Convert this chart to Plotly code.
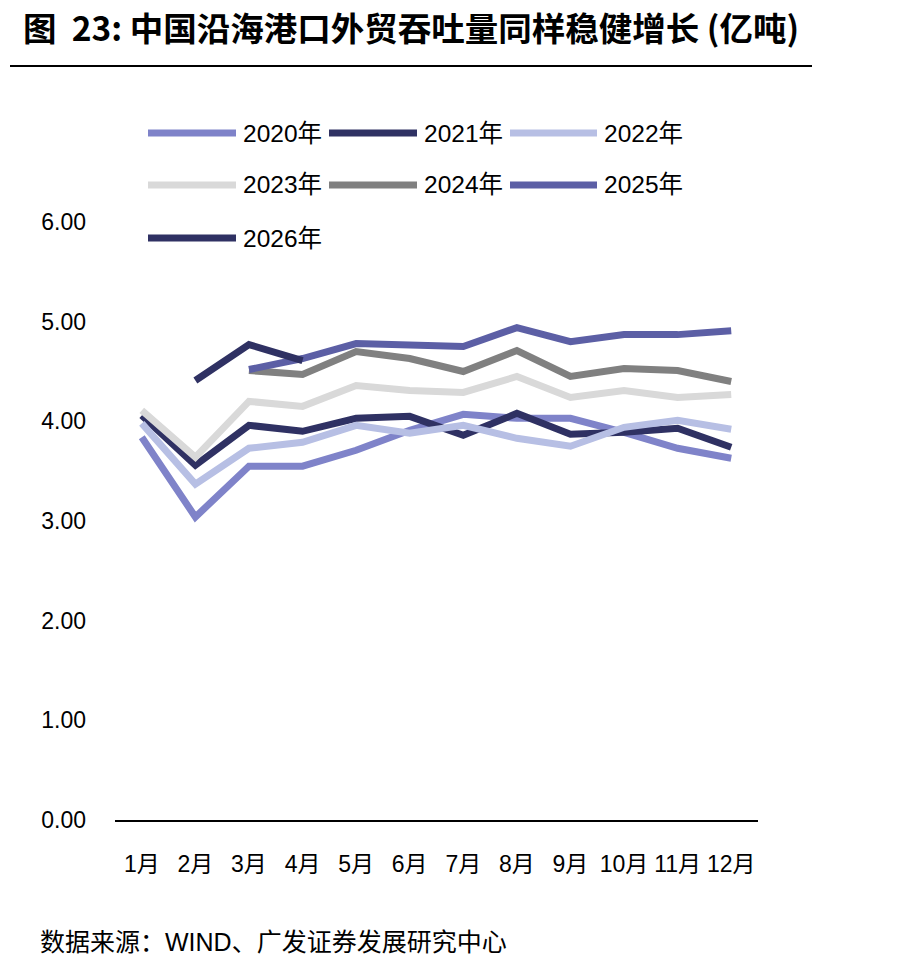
import plotly.graph_objects as go

months = ["1月", "2月", "3月", "4月", "5月", "6月", "7月", "8月", "9月", "10月", "11月", "12月"]
series_names = ["2020年", "2021年", "2022年", "2023年", "2024年", "2025年", "2026年"]
y2020 = [3.84, 3.04, 3.55, 3.55, 3.71, 3.91, 4.07, 4.03, 4.03, 3.89, 3.73, 3.63]
y2021 = [4.06, 3.56, 3.96, 3.90, 4.03, 4.05, 3.86, 4.08, 3.87, 3.89, 3.93, 3.74]
y2022 = [3.98, 3.37, 3.73, 3.79, 3.96, 3.88, 3.96, 3.83, 3.75, 3.94, 4.01, 3.92]
y2023 = [4.11, 3.64, 4.20, 4.15, 4.36, 4.31, 4.29, 4.45, 4.24, 4.31, 4.24, 4.27]
y2024 = [None, None, 4.51, 4.47, 4.70, 4.63, 4.50, 4.71, 4.45, 4.53, 4.51, 4.40]
y2025 = [None, None, 4.52, 4.63, 4.78, 4.76, 4.75, 4.94, 4.80, 4.87, 4.87, 4.91]
y2026 = [None, 4.41, 4.77, 4.61, None, None, None, None, None, None, None, None]
y_ticks = [0, 1, 2, 3, 4, 5, 6]
y_tick_labels = ["0.00", "1.00", "2.00", "3.00", "4.00", "5.00", "6.00"]

all_series = [y2020, y2021, y2022, y2023, y2024, y2025, y2026]
colors = ["#7F83C9", "#2F3163", "#B7BFE4", "#D9D9D9", "#808080", "#5C5FA5", "#2F3163"]

W, H = 916, 972
L, R, T, B = 115, 158, 222, 152
PW, PH = W - L - R, H - T - B

def px(x):
    return (x - L) / PW

def py(y):
    return (H - B - y) / PH

FONT = "Liberation Sans, Arial, Noto Sans CJK SC, sans-serif"

fig = go.Figure()
for name, vals, c in zip(series_names, all_series, colors):
    fig.add_trace(go.Scatter(x=months, y=vals, name=name, mode="lines",
                             line=dict(color=c, width=7), connectgaps=False,
                             showlegend=False))

shapes = []
annotations = []
# title
annotations.append(dict(text="<b>图  23: 中国沿海港口外贸吞吐量同样稳健增长 (亿吨)</b>",
                        x=px(22), y=py(1), xref="paper", yref="paper",
                        xanchor="left", yanchor="top", showarrow=False, borderpad=0,
                        font=dict(family="Noto Sans CJK SC, sans-serif", size=33.5, color="#000000")))
shapes.append(dict(type="line", xref="paper", yref="paper", x0=px(10), x1=px(812),
                   y0=py(66), y1=py(66), line=dict(color="#000000", width=2)))
# legend (manual, 3 columns)
col_line = [(148, 236), (329, 417), (510, 597)]
row_y = [133, 185, 238]
for i, (name, c) in enumerate(zip(series_names, colors)):
    r, k = divmod(i, 3)
    x0, x1 = col_line[k]
    yy = row_y[r]
    shapes.append(dict(type="line", xref="paper", yref="paper", x0=px(x0), x1=px(x1),
                       y0=py(yy), y1=py(yy), line=dict(color=c, width=7)))
    annotations.append(dict(text=name, x=px(x1 + 5), y=py(yy), xref="paper", yref="paper",
                            xanchor="left", yanchor="middle", showarrow=False,
                            font=dict(family=FONT, size=24.5, color="#000000")))
# footer
annotations.append(dict(text="数据来源：WIND、广发证券发展研究中心", x=px(38), y=py(942),
                        xref="paper", yref="paper", xanchor="left", yanchor="middle",
                        showarrow=False, font=dict(family=FONT, size=25, color="#000000")))

fig.update_layout(
    width=W, height=H,
    margin=dict(l=L, r=R, t=T, b=B),
    paper_bgcolor="white", plot_bgcolor="white",
    showlegend=False,
    shapes=shapes, annotations=annotations,
    font=dict(family=FONT, size=23, color="#000000"),
)
fig.update_xaxes(type="category", range=[-0.5, 11.5], showgrid=False, zeroline=False,
                 showline=True, linecolor="#000000", linewidth=2, ticks="",
                 ticklabelstandoff=22, tickfont=dict(family=FONT, size=23, color="#000000"))
fig.update_yaxes(range=[0, 6], tickvals=y_ticks, ticktext=y_tick_labels, showgrid=False,
                 zeroline=False, showline=False, ticks="", ticklabelstandoff=28,
                 tickfont=dict(family=FONT, size=23, color="#000000"))

fig.write_html("out.html")
